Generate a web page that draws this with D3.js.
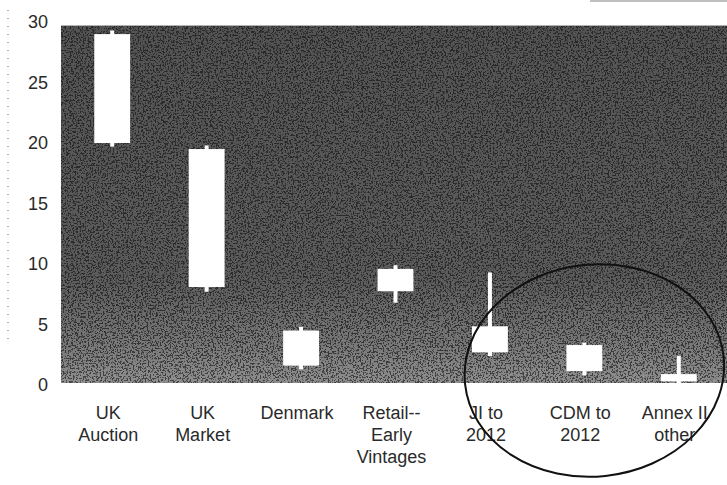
<!DOCTYPE html>
<html>
<head>
<meta charset="utf-8">
<script src="https://cdn.jsdelivr.net/npm/d3@7"></script>
<style>
  body { margin: 0; background: #fff; }
  svg { display: block; }
  text { font-family: "Liberation Sans", Arial, sans-serif; fill: #2a2a2a; }
</style>
</head>
<body>
<div id="chart"></div>
<script>
var categories = [
  ["UK", "Auction"],
  ["UK", "Market"],
  ["Denmark"],
  ["Retail--", "Early", "Vintages"],
  ["JI to", "2012"],
  ["CDM to", "2012"],
  ["Annex II", "other"]
];
var boxLow  = [20.0, 8.1, 1.6, 7.75, 2.7, 1.15, 0.3];
var boxHigh = [29.0, 19.5, 4.5, 9.6, 4.85, 3.3, 0.9];
var whiskLow  = [19.7, 7.7, 1.3, 6.8, 2.4, 0.8, 0.0];
var whiskHigh = [29.3, 19.8, 4.8, 9.9, 9.3, 3.5, 2.4];
var yTicks = [0, 5, 10, 15, 20, 25, 30];

var width = 727, height = 485;
var margin = {top: 22, right: 1, bottom: 100, left: 65};

var data = categories.map(function(c, i) {
  return {id: i, label: c, lo: boxLow[i], hi: boxHigh[i], wlo: whiskLow[i], whi: whiskHigh[i]};
});

var x = d3.scaleBand()
  .domain(data.map(function(d) { return d.id; }))
  .range([margin.left, width - margin.right])
  .paddingInner(0.62)
  .paddingOuter(0.31);

var y = d3.scaleLinear()
  .domain([0, 30])
  .range([height - margin.bottom, margin.top]);

var svg = d3.select('#chart')
  .append('svg')
    .attr('width', width)
    .attr('height', height);

var defs = svg.append('defs');

// dark scanned-looking plot background
var bg = defs.append('linearGradient')
    .attr('id', 'bg-grad')
    .attr('x1', 0).attr('y1', 0).attr('x2', 0).attr('y2', 1);
bg.append('stop').attr('offset', '0%').attr('stop-color', '#282828');
bg.append('stop').attr('offset', '75%').attr('stop-color', '#2c2c2c');
bg.append('stop').attr('offset', '90%').attr('stop-color', '#363636');
bg.append('stop').attr('offset', '100%').attr('stop-color', '#444');

var fade = defs.append('linearGradient')
    .attr('id', 'fade')
    .attr('x1', 0).attr('y1', 0).attr('x2', 0).attr('y2', 1);
fade.append('stop').attr('offset', '0%').attr('stop-color', '#fff').attr('stop-opacity', 0.4);
fade.append('stop').attr('offset', '70%').attr('stop-color', '#fff').attr('stop-opacity', 0.45);
fade.append('stop').attr('offset', '88%').attr('stop-color', '#fff').attr('stop-opacity', 0.65);
fade.append('stop').attr('offset', '100%').attr('stop-color', '#fff').attr('stop-opacity', 0.8);

var grain = defs.append('filter')
    .attr('id', 'grain')
    .attr('x', 0).attr('y', 0).attr('width', 1).attr('height', 1);
grain.append('feTurbulence')
    .attr('type', 'fractalNoise')
    .attr('baseFrequency', 0.6)
    .attr('numOctaves', 2)
    .attr('seed', 7)
    .attr('result', 'noise');
grain.append('feColorMatrix')
    .attr('in', 'noise')
    .attr('type', 'matrix')
    .attr('values', '0 0 0 0 1  0 0 0 0 1  0 0 0 0 1  0 0 0 -12 7.2')
    .attr('result', 'speck');
grain.append('feComposite')
    .attr('in', 'speck')
    .attr('in2', 'SourceGraphic')
    .attr('operator', 'in');

var plotTop = y(29.7), plotBottom = y(0) - 2;
var plotW = width - margin.left + 4;

svg.append('rect')
    .attr('x', margin.left - 4)
    .attr('y', plotTop)
    .attr('width', plotW)
    .attr('height', plotBottom - plotTop)
    .attr('fill', 'url(#bg-grad)');

svg.append('rect')
    .attr('x', margin.left - 4)
    .attr('y', plotTop)
    .attr('width', plotW)
    .attr('height', plotBottom - plotTop)
    .attr('fill', 'url(#fade)')
    .attr('opacity', 0.5)
    .attr('filter', 'url(#grain)');

// y labels, no axis line
svg.append('g')
  .selectAll('text')
  .data(yTicks)
  .enter().append('text')
    .attr('x', 48)
    .attr('y', function(d) { return y(d); })
    .attr('dy', '0.35em')
    .attr('text-anchor', 'end')
    .style('font-size', '18px')
    .text(function(d) { return d; });

// whiskers
svg.append('g')
  .selectAll('line')
  .data(data)
  .enter().append('line')
    .attr('x1', function(d) { return x(d.id) + x.bandwidth() / 2; })
    .attr('x2', function(d) { return x(d.id) + x.bandwidth() / 2; })
    .attr('y1', function(d) { return y(d.whi); })
    .attr('y2', function(d) { return y(d.wlo); })
    .attr('stroke', '#fff')
    .attr('stroke-width', 4);

// range boxes
svg.append('g')
  .selectAll('rect')
  .data(data)
  .enter().append('rect')
    .attr('x', function(d) { return x(d.id); })
    .attr('y', function(d) { return y(d.hi); })
    .attr('width', x.bandwidth())
    .attr('height', function(d) { return y(d.lo) - y(d.hi); })
    .attr('fill', '#fff');

// category labels
var lab = svg.append('g')
  .selectAll('text')
  .data(data)
  .enter().append('text')
    .attr('text-anchor', 'middle')
    .style('font-size', '18px')
    .attr('x', function(d) { return x(d.id) + x.bandwidth() / 2 - 4; });

lab.selectAll('tspan')
  .data(function(d) { return d.label; })
  .enter().append('tspan')
    .attr('x', function() { return d3.select(this.parentNode).attr('x'); })
    .attr('y', function(d, i) { return 419 + i * 22; })
    .text(function(d) { return d; });

// hand-drawn circle around the last three
var cx = (x(4) + x(6) + x.bandwidth()) / 2 + 10;
svg.append('ellipse')
    .attr('cx', cx)
    .attr('cy', y(1.2))
    .attr('rx', 130)
    .attr('ry', 106)
    .attr('fill', 'none')
    .attr('stroke', '#111')
    .attr('stroke-width', 2)
    .attr('transform', 'rotate(-6,' + cx + ',' + y(1.2) + ')');

// scan artefacts: dotted margin line, top edge
svg.append('line')
    .attr('x1', 8).attr('x2', 8)
    .attr('y1', 10).attr('y2', 340)
    .attr('stroke', '#777')
    .attr('stroke-width', 1.2)
    .attr('stroke-dasharray', '1 7');
svg.append('line')
    .attr('x1', 590).attr('x2', width)
    .attr('y1', 1).attr('y2', 1)
    .attr('stroke', '#aaa')
    .attr('stroke-width', 1.5);
</script>
</body>
</html>
